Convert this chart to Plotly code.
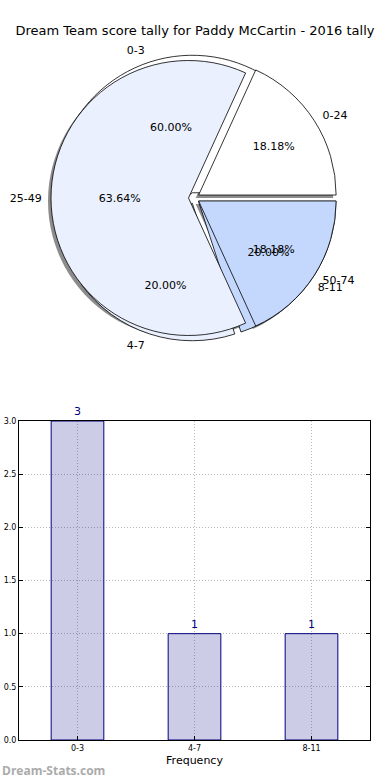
import plotly.graph_objects as go

title = "Dream Team score tally for Paddy McCartin - 2016 tally"

# Pie 1: score ranges
range_labels = ["0-24", "25-49", "50-74"]
range_values = [2, 7, 2]

# Pie 2 / bar: frequency bins
bin_labels = ["0-3", "4-7", "8-11"]
bin_values = [3, 1, 1]

pie_colors = ["#ffffff", "#eaf0fd", "#c4d8fd"]
font_family = "DejaVu Sans"

W, H = 390, 780


def px(x):
    return x / W


def py(y):
    return 1 - y / H


cx, cy, half = 194, 198, 143


def dom(dx=0, dy=0, h=half):
    return dict(x=[px(cx - h + dx), px(cx + h + dx)],
                y=[py(cy + h + dy), py(cy - h + dy)])


def start_rot(vals):
    # first slice starts at 3 o'clock and runs counterclockwise
    return 90 - 360 * vals[0] / sum(vals)


common = dict(sort=False, direction="counterclockwise",
              showlegend=False, hoverinfo="skip")
pull = 0.04

fig = go.Figure()

# shadow
fig.add_trace(go.Pie(labels=range_labels, values=range_values, domain=dom(-3, 3),
                     rotation=start_rot(range_values),
                     marker=dict(colors=["rgba(0,0,0,0.45)"] * 3, line=dict(width=0)),
                     pull=pull, textinfo="none", **common))
# bin pie (underneath)
fig.add_trace(go.Pie(labels=bin_labels, values=bin_values, domain=dom(),
                     rotation=start_rot(bin_values),
                     marker=dict(colors=pie_colors, line=dict(color="black", width=0.8)),
                     pull=pull, textinfo="none", **common))
# range pie (on top) with percentages
fig.add_trace(go.Pie(labels=range_labels, values=range_values, domain=dom(),
                     rotation=start_rot(range_values),
                     marker=dict(colors=pie_colors, line=dict(color="black", width=0.8)),
                     pull=pull, texttemplate="%{percent:.2%}", textposition="inside",
                     insidetextorientation="horizontal",
                     textfont=dict(family=font_family, size=11, color="black"), **common))
# bin pie percentages (transparent)
fig.add_trace(go.Pie(labels=bin_labels, values=bin_values, domain=dom(),
                     rotation=start_rot(bin_values),
                     marker=dict(colors=["rgba(0,0,0,0)"] * 3, line=dict(width=0)),
                     pull=pull, texttemplate="%{percent:.2%}", textposition="inside",
                     insidetextorientation="horizontal",
                     textfont=dict(family=font_family, size=11, color="black"), **common))
# outside labels (slightly larger invisible pie so labels sit further out)
for labs, vals in [(range_labels, range_values), (bin_labels, bin_values)]:
    fig.add_trace(go.Pie(labels=labs, values=vals, domain=dom(h=half + 6),
                         rotation=start_rot(vals),
                         marker=dict(colors=["rgba(0,0,0,0)"] * 3, line=dict(width=0)),
                         pull=pull, texttemplate="%{label}", textposition="outside",
                         outsidetextfont=dict(family=font_family, size=11, color="black"),
                         automargin=False, **common))

# bar chart
fig.add_trace(go.Bar(x=bin_labels, y=bin_values, width=0.45,
                     marker=dict(color="rgba(0,0,128,0.2)", line=dict(color="navy", width=1)),
                     text=[str(v) for v in bin_values], textposition="outside",
                     textfont=dict(family=font_family, size=11, color="navy"),
                     cliponaxis=False, showlegend=False, hoverinfo="skip",
                     xaxis="x", yaxis="y"))

grid = dict(showgrid=True, gridcolor="#b8b8b8", griddash="1px,2px", gridwidth=1)

fig.update_layout(
    width=W, height=H, margin=dict(l=0, r=0, t=0, b=0, autoexpand=False),
    paper_bgcolor="white", plot_bgcolor="white",
    font=dict(family=font_family, color="black"),
    title=dict(text=title, x=px(195), xref="paper", xanchor="center", y=py(30), yanchor="middle",
               font=dict(family=font_family, size=13, color="black")),
    xaxis=dict(domain=[px(19), px(370)], anchor="y", range=[-0.5, 2.5], automargin=False,
               showline=True, linecolor="black", linewidth=1, mirror=True,
               ticks="inside", ticklen=4, tickcolor="black",
               tickfont=dict(size=8), title=dict(text="Frequency", font=dict(size=11), standoff=4),
               **grid),
    yaxis=dict(domain=[py(740), py(421)], anchor="x", range=[0, 3], automargin=False,
               dtick=0.5, tickformat=".1f",
               showline=True, linecolor="black", linewidth=1, mirror="ticks",
               ticks="inside", ticklen=4, tickcolor="black",
               zeroline=False, tickfont=dict(size=8), **grid),
    annotations=[dict(text="<b>Dream-Stats.com</b>", x=px(0), y=py(770), xref="paper", yref="paper",
                      xanchor="left", yanchor="middle", showarrow=False,
                      font=dict(family="Open Sans", size=12, color="#ababab"))],
)

fig.write_html("out.html", config={"displayModeBar": False},
               post_script="document.body.style.margin='0';document.body.style.overflow='hidden';")
